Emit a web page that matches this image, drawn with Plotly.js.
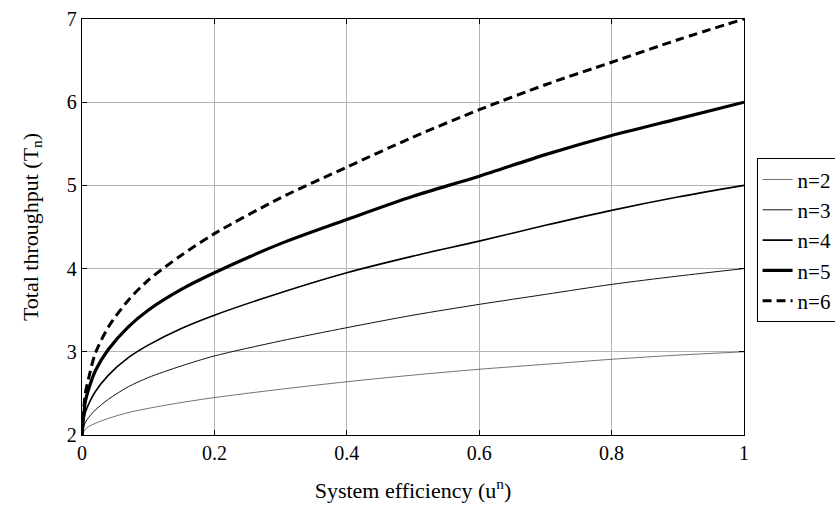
<!DOCTYPE html>
<html>
<head>
<meta charset="utf-8">
<script src="https://cdn.plot.ly/plotly-3.0.1.min.js"></script>
<style>html,body{margin:0;padding:0;background:#fff;}#chart{width:835px;height:511px;}</style>
</head>
<body>
<div id="chart"></div>
<script>
const efficiency = [0, 0.005, 0.01, 0.02, 0.04, 0.07, 0.1, 0.15, 0.2, 0.3, 0.4, 0.5, 0.6, 0.7, 0.8, 0.9, 1];
const seriesNames = ["n=2", "n=3", "n=4", "n=5", "n=6"];
const throughputN2 = [2, 2.07, 2.10, 2.14, 2.20, 2.27, 2.32, 2.39, 2.45, 2.55, 2.64, 2.72, 2.79, 2.85, 2.91, 2.96, 3];
const throughputN3 = [2, 2.15, 2.21, 2.30, 2.43, 2.58, 2.69, 2.83, 2.95, 3.13, 3.29, 3.44, 3.57, 3.69, 3.81, 3.91, 4];
const throughputN4 = [2, 2.27, 2.37, 2.52, 2.72, 2.93, 3.08, 3.28, 3.44, 3.71, 3.95, 4.15, 4.33, 4.52, 4.70, 4.86, 5];
const throughputN5 = [2, 2.40, 2.55, 2.77, 3.03, 3.30, 3.50, 3.75, 3.95, 4.30, 4.59, 4.87, 5.11, 5.37, 5.60, 5.80, 6];
const throughputN6 = [2, 2.50, 2.68, 2.98, 3.30, 3.62, 3.86, 4.16, 4.42, 4.85, 5.22, 5.58, 5.91, 6.21, 6.48, 6.75, 7];
const xTicks = [0, 0.2, 0.4, 0.6, 0.8, 1];
const xTickLabels = ["0", "0.2", "0.4", "0.6", "0.8", "1"];
const yTicks = [2, 3, 4, 5, 6, 7];
const yTickLabels = ["2", "3", "4", "5", "6", "7"];

const allY = [throughputN2, throughputN3, throughputN4, throughputN5, throughputN6];
const styles = [
  {width: 0.7, color: '#333', dash: 'solid'},
  {width: 1.0, color: '#111', dash: 'solid'},
  {width: 1.6, color: '#000', dash: 'solid'},
  {width: 3.2, color: '#000', dash: 'solid'},
  {width: 3.0, color: '#000', dash: '9px,5px'}
];
const traces = allY.map((ys, i) => ({
  x: efficiency, y: ys, type: 'scatter', mode: 'lines', name: seriesNames[i],
  line: Object.assign({shape: 'spline', smoothing: 0.8}, styles[i])
}));
function mkFont(sz) { return {family: 'Liberation Serif', size: sz, color: '#000'}; }
const layout = {
  width: 835, height: 511,
  margin: {l: 82, r: 91, t: 19, b: 76, autoexpand: false},
  paper_bgcolor: '#fff', plot_bgcolor: '#fff',
  font: mkFont(20),
  showlegend: true,
  legend: {x: 1.019, y: 0.665, xanchor: 'left', yanchor: 'top', bgcolor: '#fff',
           bordercolor: '#000', borderwidth: 1, font: mkFont(21), itemwidth: 30, tracegroupgap: 0},
  xaxis: {range: [0, 1], tickvals: xTicks, ticktext: xTickLabels, showgrid: true, gridcolor: '#b4b4b4', gridwidth: 1,
          zeroline: false, showline: true, linecolor: '#000', linewidth: 1.2, mirror: 'ticks',
          ticks: 'inside', ticklen: 5, tickcolor: '#000', tickfont: mkFont(20),
          title: {text: 'System efficiency (u<sup>n</sup>)', font: mkFont(22), standoff: 19}},
  yaxis: {range: [2, 7], tickvals: yTicks, ticktext: yTickLabels, showgrid: true, gridcolor: '#b4b4b4', gridwidth: 1,
          zeroline: false, showline: true, linecolor: '#000', linewidth: 1.2, mirror: 'ticks',
          ticks: 'inside', ticklen: 5, tickcolor: '#000', tickfont: mkFont(20),
          title: {text: 'Total throughput (T<sub>n</sub>)', font: mkFont(22), standoff: 22}}
};
Plotly.newPlot('chart', traces, layout, {displayModeBar: false, staticPlot: true});
</script>
</body>
</html>
